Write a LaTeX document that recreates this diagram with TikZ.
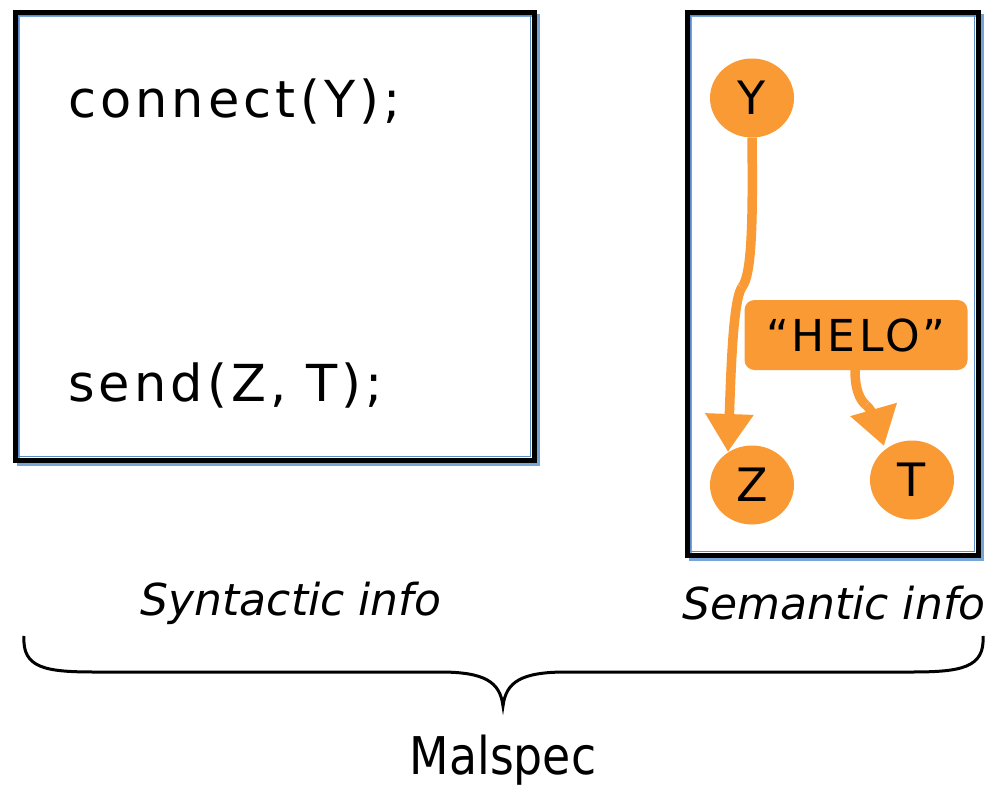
\documentclass[tikz,border=0pt]{standalone}
\usepackage{fontspec}
\setmainfont{DejaVu Sans}
\newfontfamily\codefont[LetterSpace=8]{DejaVu Sans}
\newfontfamily\lblfont[FakeStretch=0.88]{DejaVu Sans}
\usetikzlibrary{arrows.meta,shapes.geometric}
\definecolor{orng}{RGB}{250,154,52}
\definecolor{shadowblue}{RGB}{120,165,215}
\definecolor{innerblue}{RGB}{90,140,200}
\tikzset{
  box/.style={line width=5pt, draw=black},
  boxshadow/.style={line width=3pt, draw=shadowblue},
  boxinner/.style={line width=1.5pt, draw=innerblue},
  code/.style={anchor=base west, inner sep=0pt, font=\codefont\fontsize{51}{60}\selectfont},
  vnode/.style={ellipse, fill=orng, minimum width=84pt, minimum height=79pt, inner sep=0pt, font=\fontsize{46}{50}\selectfont},
  strbox/.style={rectangle, rounded corners=10pt, fill=orng, minimum width=223pt, minimum height=70pt, inner sep=0pt, font=\codefont\fontsize{44}{50}\selectfont},
  conn/.style={draw=orng, line width=9.5pt},
  flow/.style={conn, -{Triangle[length=38pt 0,width=46pt 0]}},
  lbl/.style={font=\itshape\fontsize{44}{50}\selectfont},
}
\begin{document}
\begin{tikzpicture}[x=1pt,y=-1pt]
\useasboundingbox (0,0) rectangle (989,785);
% left box
\draw[boxshadow] (18,15) rectangle (538,464);
\draw[box] (15,12) rectangle (534,460);
\draw[boxinner] (18.5,15.5) rectangle (530.5,456.5);
% right box
\draw[boxshadow] (690,15) rectangle (982,559);
\draw[box] (687,12) rectangle (978,555);
\draw[boxinner] (690.5,15.5) rectangle (974.5,551.5);
% code
\node[code] (c1) at (68,117) {connect(Y);};
\node[code] (c2) at (68,401) {send(Z, T);};
% semantic graph
\node[vnode] (Y) at (752,98) {Y};
\node[vnode] (Z) at (752,485) {Z};
\node[vnode] (T) at (912,480) {T};
\node[strbox] (H) at (856,335) {“HELO”};
\coordinate (k1) at (742,287);
\coordinate (k2) at (866,405);
\coordinate (zt) at (728,452);
\coordinate (tt) at (884,446);
\coordinate (hb) at (855,370);
\draw[conn] (Y.south) .. controls (753,220) and (752,275) .. (k1);
\draw[flow] (k1) .. controls (733,300) and (731,370) .. (zt);
\draw[conn] (hb) .. controls (855,390) and (860,400) .. (k2);
\draw[flow] (k2) .. controls (872,410) and (878,425) .. (tt);
% labels
\node[lbl] (syn) at (291,603) {Syntactic info};
\node[lbl] (sem) at (834,603) {Semantic info};
% brace
\coordinate (bl) at (24,636);
\coordinate (br) at (983,636);
\coordinate (bm) at (503,706);
\draw[line width=3pt] (bl) .. controls (22,668) and (45,672) .. (95,672) -- (440,672)
  .. controls (485,672) and (500,682) .. (bm)
  .. controls (506,682) and (521,672) .. (566,672) -- (911,672)
  .. controls (961,672) and (985,668) .. (br);
\node[font=\lblfont\fontsize{52}{60}\selectfont] (mal) at (503,760) {Malspec};
\end{tikzpicture}
\end{document}
